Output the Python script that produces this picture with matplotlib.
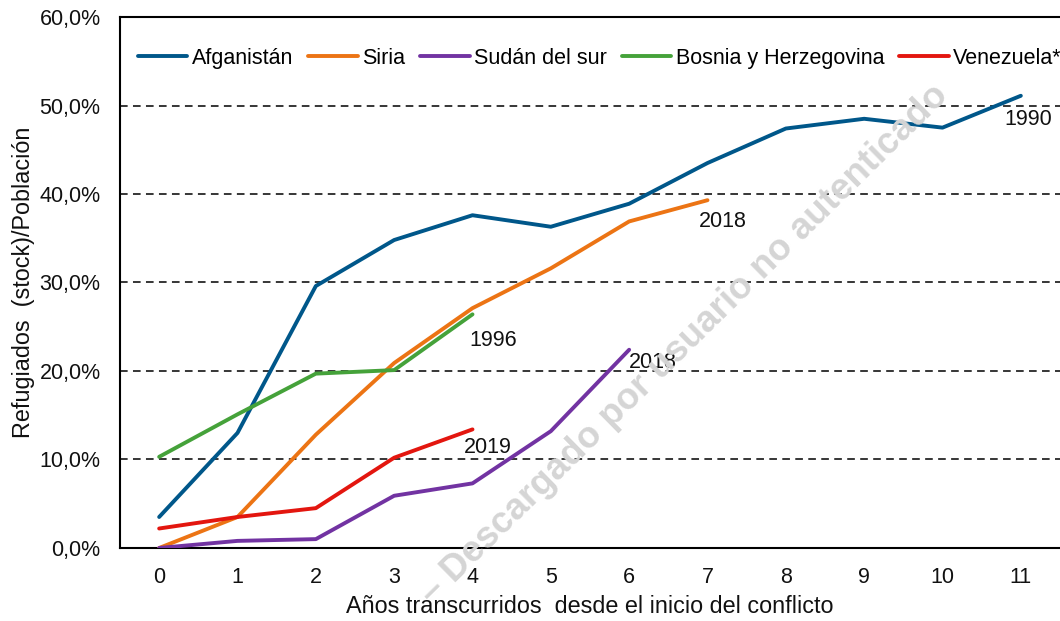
import matplotlib
matplotlib.use("Agg")
import matplotlib.pyplot as plt
from matplotlib.ticker import FuncFormatter

plt.rcParams['font.family'] = ['Liberation Sans', 'DejaVu Sans']

afg_x = list(range(12))
afg_y = [3.5, 13.0, 29.6, 34.8, 37.6, 36.3, 38.9, 43.5, 47.4, 48.5, 47.5, 51.1]
siria_x = list(range(8))
siria_y = [0.0, 3.5, 12.8, 20.9, 27.1, 31.6, 36.9, 39.3]
sudan_x = list(range(7))
sudan_y = [0.0, 0.8, 1.0, 5.9, 7.3, 13.2, 22.4]
bosnia_x = list(range(5))
bosnia_y = [10.3, 15.1, 19.7, 20.1, 26.4]
venez_x = list(range(5))
venez_y = [2.2, 3.5, 4.5, 10.2, 13.4]

names = ["Afganistán", "Siria", "Sudán del sur", "Bosnia y Herzegovina", "Venezuela*"]
colors = ["#00578A", "#EC7414", "#7233A2", "#45A23A", "#E3160F"]
end_labels = ["1990", "2018", "2018", "1996", "2019"]

FS = 15.5
FSL = 16.8
fig = plt.figure(figsize=(10.6, 6.21), dpi=100)
ax = fig.add_axes([0.1132, 0.1176, 0.8868, 0.855])

fig.text(0.646, 0.446, "– Descargado por usuario no autenticado", rotation=44.5,
         rotation_mode='anchor', fontsize=26.5, fontweight='bold', color='#D5D5D5',
         ha='center', va='center', zorder=0)
ax.set_facecolor('none')

series = [(afg_x, afg_y), (siria_x, siria_y), (sudan_x, sudan_y), (bosnia_x, bosnia_y), (venez_x, venez_y)]
for (xs, ys), n, c in zip(series, names, colors):
    ax.plot(xs, ys, color=c, lw=2.8, label=n, solid_capstyle='round', zorder=3)

# end-of-series year labels (offsets in points)
offsets = [(-12, -21), (-6.5, -19), (0, -13.5), (-2, -22.5), (-6, -17)]
for (xs, ys), lab, off in zip(series, end_labels, offsets):
    ax.annotate(lab, (xs[-1], ys[-1]), xytext=off, textcoords='offset points',
                fontsize=FS, color='#111111', ha='left', va='baseline', zorder=4,
                annotation_clip=False)

ax.set_xlim(-0.5, 11.5)
ax.set_ylim(0, 60)
ax.set_xticks(range(12))
ax.set_yticks(range(0, 61, 10))
ax.yaxis.set_major_formatter(FuncFormatter(lambda v, p: f"{v:.1f}%".replace('.', ',')))
ax.tick_params(axis='both', length=0, labelsize=FS, colors='#111111')
ax.tick_params(axis='y', pad=14)
ax.tick_params(axis='x', pad=14)

for yv in range(10, 60, 10):
    ax.axhline(yv, color='black', lw=1.1, ls=(0, (5, 3.5)), zorder=1)

for s in ['left', 'bottom', 'top']:
    ax.spines[s].set_color('black')
    ax.spines[s].set_linewidth(1.5)
ax.spines['right'].set_visible(False)

ax.set_ylabel("Refugiados  (stock)/Población", fontsize=FSL, color='#111111', labelpad=3)
ax.set_xlabel("Años transcurridos  desde el inicio del conflicto", fontsize=FSL, color='#111111', labelpad=5)

leg = ax.legend(loc='center left', bbox_to_anchor=(0.019, 0.922), ncol=5, frameon=False,
                fontsize=FS, handlelength=2.3, handletextpad=0.2, columnspacing=0.7,
                borderaxespad=0.0, borderpad=0.0)

fig.savefig("out.png", dpi=100)
